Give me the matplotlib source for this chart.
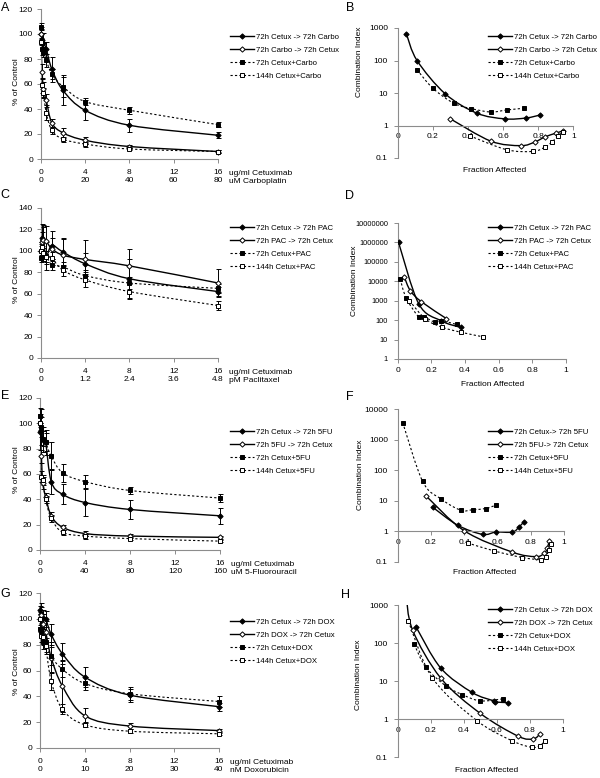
import numpy as np
import matplotlib
matplotlib.use("Agg")
import matplotlib.pyplot as plt
from matplotlib.path import Path
from matplotlib.patches import PathPatch
from matplotlib.lines import Line2D
from matplotlib.ticker import FuncFormatter, NullLocator

plt.rcParams['font.family'] = ['Liberation Sans', 'DejaVu Sans']
plt.rcParams['font.size'] = 6

W, H = 600, 778
FS = 6        # ticks / axis labels
LEG_FS = 5.6  # legend text

# ---------------- data ----------------
cetux_dose = [0, 0.125, 0.25, 0.5, 1, 2, 4, 8, 16]
cetux_ticks = [0, 4, 8, 12, 16]

# A: carboplatin viability (% of control)
carbo_labels = ["72h Cetux -> 72h Carbo", "72h Carbo -> 72h Cetux", "72h Cetux+Carbo", "144h Cetux+Carbo"]
carbo_ticks = ["0", "20", "40", "60", "80"]
carbo_cetux_first = [100, 95, 93, 88, 72, 55, 39, 27, 19]
carbo_cetux_first_err = [6, 6, 8, 6, 10, 12, 8, 5, 2.5]
carbo_carbo_first = [100, 70, 56, 47, 29, 21, 15, 10, 6]
carbo_carbo_first_err = [4, 6, 6, 5, 3, 4, 2.5, 1.5, 1]
carbo_combo72 = [106, 88, 86, 79, 68, 58, 46, 39, 27.5]
carbo_combo72_err = [3, 5, 4, 5, 4, 8, 3, 3, 2]
carbo_combo144 = [94, 59, 53, 37, 23, 16, 12, 8, 6]
carbo_combo144_err = [3, 6, 4, 6, 3, 2, 2, 1, 1]

# C: paclitaxel
pac_labels = ["72h Cetux -> 72h PAC", "72h PAC -> 72h Cetux", "72h Cetux+PAC", "144h Cetux+PAC"]
pac_ticks = ["0", "1.2", "2.4", "3.6", "4.8"]
pac_cetux_first = [100, 112, 110, 95, 105, 99, 88, 74, 62]
pac_cetux_first_err = [8, 13, 14, 13, 14, 13, 10, 18, 4]
pac_pac_first = [100, 108, 110, 109, 102, 96, 92, 86, 70]
pac_pac_first_err = [6, 10, 12, 14, 10, 15, 18, 16, 13]
pac_combo72 = [93, 100, 97, 95, 87, 85, 77, 70, 65]
pac_combo72_err = [3, 5, 6, 5, 5, 5, 5, 6, 4]
pac_combo144 = [100, 104, 98, 94, 93, 82, 73, 62, 49]
pac_combo144_err = [5, 6, 5, 6, 6, 5, 7, 7, 4]

# E: 5-fluorouracil
fu_labels = ["72h Cetux -> 72h 5FU", "72h 5FU -> 72h Cetux", "72h Cetux+5FU", "144h Cetux+5FU"]
fu_labels_ci = ["72h Cetux-> 72h 5FU", "72h 5FU-> 72h Cetux", "72h Cetux+5FU", "144h Cetux+5FU"]
fu_ticks = ["0", "40", "80", "120", "160"]
fu_cetux_first = [93, 97, 87, 85, 54, 44, 37.5, 32, 27]
fu_cetux_first_err = [14, 14, 10, 10, 10, 8, 11, 7.5, 6.5]
fu_fu_first = [100, 74, 53, 42, 27, 18, 13, 11, 10]
fu_fu_first_err = [5, 5, 5, 3, 3, 2, 2, 1.5, 1]
fu_combo72 = [106, 97, 88, 85, 74, 61, 54, 47, 41]
fu_combo72_err = [6, 8, 6, 7, 11, 7, 5, 3, 3]
fu_combo144 = [100, 58, 55, 40, 25, 14, 11, 9, 7]
fu_combo144_err = [6, 4, 4, 3, 3, 2, 2, 1, 1]

# G: doxorubicin
dox_labels = ["72h Cetux -> 72h DOX", "72h DOX -> 72h Cetux", "72h Cetux+DOX", "144h Cetux+DOX"]
dox_ticks = ["0", "10", "20", "30", "40"]
dox_cetux_first = [107, 104, 101, 100, 88, 73, 55, 41, 32]
dox_cetux_first_err = [3, 8, 6, 6, 8, 8, 8, 5, 3]
dox_dox_first = [100, 103, 96, 90, 70, 48, 25, 17, 13.5]
dox_dox_first_err = [5, 6, 8, 8, 12, 20, 6, 2, 1]
dox_combo72 = [92, 90, 82, 82, 71, 61, 50, 42, 36]
dox_combo72_err = [2, 5, 5, 8, 7, 6, 5, 5, 4]
dox_combo144 = [100, 87, 86, 79, 52, 30, 18, 13, 11]
dox_combo144_err = [7, 5, 6, 6, 7, 4, 2, 1.5, 1]

# B: combination index, carboplatin
carbo_ci_cetux_first_fa = [0.05, 0.11, 0.27, 0.45, 0.61, 0.73, 0.81]
carbo_ci_cetux_first = [650, 100, 9.5, 2.4, 1.6, 1.7, 2.1]
carbo_ci_carbo_first_fa = [0.30, 0.53, 0.70, 0.78, 0.84, 0.90, 0.94]
carbo_ci_carbo_first = [1.6, 0.33, 0.24, 0.31, 0.45, 0.58, 0.68]
carbo_ci_combo72_fa = [0.11, 0.20, 0.32, 0.42, 0.53, 0.62, 0.72]
carbo_ci_combo72 = [52, 14, 4.8, 3.3, 2.6, 3.0, 3.4]
carbo_ci_combo144_fa = [0.41, 0.62, 0.77, 0.84, 0.88, 0.91, 0.94]
carbo_ci_combo144 = [0.48, 0.18, 0.16, 0.22, 0.32, 0.46, 0.64]

# D: combination index, paclitaxel
pac_ci_cetux_first_fa = [0.005, 0.125, 0.255, 0.375]
pac_ci_cetux_first = [1.0e6, 700, 95, 42]
pac_ci_pac_first_fa = [0.04, 0.075, 0.14, 0.29]
pac_ci_pac_first = [16000, 3300, 900, 120]
pac_ci_combo72_fa = [0.015, 0.05, 0.125, 0.155, 0.22, 0.255, 0.35]
pac_ci_combo72 = [13000, 1400, 145, 150, 80, 95, 60]
pac_ci_combo144_fa = [0.07, 0.165, 0.265, 0.375, 0.505]
pac_ci_combo144 = [1000, 115, 43, 24, 14]

# F: combination index, 5FU
fu_ci_cetux_first_fa = [0.21, 0.36, 0.51, 0.59, 0.69, 0.73, 0.76]
fu_ci_cetux_first = [6.2, 1.6, 0.8, 0.95, 0.95, 1.4, 2.1]
fu_ci_fu_first_fa = [0.17, 0.40, 0.69, 0.83, 0.88, 0.90, 0.91]
fu_ci_fu_first = [14.5, 1.05, 0.21, 0.15, 0.19, 0.28, 0.5]
fu_ci_combo72_fa = [0.03, 0.15, 0.26, 0.38, 0.45, 0.53, 0.59]
fu_ci_combo72 = [3600, 43, 11.5, 4.9, 5.1, 5.6, 7.2]
fu_ci_combo144_fa = [0.42, 0.58, 0.75, 0.86, 0.89, 0.91, 0.92]
fu_ci_combo144 = [0.42, 0.23, 0.14, 0.12, 0.15, 0.25, 0.4]

# H: combination index, doxorubicin
dox_ci_cetux_first_fa = [0.11, 0.26, 0.45, 0.58, 0.59, 0.67]
dox_ci_cetux_first = [270, 22, 5, 3.0, 2.8, 2.7]
dox_ci_dox_first_fa = [0.05, 0.09, 0.26, 0.50, 0.73, 0.82, 0.86]
dox_ci_dox_first = [2000, 220, 12, 1.4, 0.35, 0.3, 0.4]
dox_ci_combo72_fa = [0.10, 0.17, 0.29, 0.39, 0.50, 0.64]
dox_ci_combo72 = [92, 23, 7.5, 4.4, 3.0, 3.4]
dox_ci_combo144_fa = [0.065, 0.21, 0.48, 0.69, 0.81, 0.86, 0.89]
dox_ci_combo144 = [370, 12, 0.9, 0.27, 0.18, 0.2, 0.26]

# ---------------- styling ----------------
AXCOL = '#8c8c8c'
STYLES = [
    dict(ls='-', lw=1.0, marker='D', ms=2.7, mfc='black'),
    dict(ls='-', lw=1.0, marker='D', ms=2.7, mfc='white'),
    dict(ls=(0, (2, 2)), lw=0.8, marker='s', ms=2.8, mfc='black'),
    dict(ls=(0, (2, 2)), lw=0.8, marker='s', ms=2.7, mfc='white'),
]

fig = plt.figure(figsize=(W / 100, H / 100), dpi=100)


def px(x, y):
    return x / W, 1 - y / H


def axes_px(x0, x1, y_top, y_bot):
    return fig.add_axes([x0 / W, 1 - y_bot / H, (x1 - x0) / W, (y_bot - y_top) / H])


def smooth_curve(ax, x, y, log, st):
    # excel-like smoothed line: bezier through the points
    x = np.asarray(x, float)
    t = np.log10(y) if log else np.asarray(y, float)
    pts = np.column_stack([x, t])
    n = len(pts)
    verts = [pts[0]]
    codes = [Path.MOVETO]
    for i in range(n - 1):
        p0 = pts[max(i - 1, 0)]
        p1 = pts[i]
        p2 = pts[i + 1]
        p3 = pts[min(i + 2, n - 1)]
        verts += [p1 + (p2 - p0) / 6, p2 - (p3 - p1) / 6, p2]
        codes += [Path.CURVE4] * 3
    verts = np.array(verts)
    if log:
        verts[:, 1] = 10 ** verts[:, 1]
    ax.add_patch(PathPatch(Path(verts, codes), fill=False, edgecolor='black',
                           lw=st['lw'], linestyle=st['ls'], zorder=2))


def style_spines(ax, ypad, xpad):
    for s in ('top', 'right'):
        ax.spines[s].set_visible(False)
    for s in ('left', 'bottom'):
        ax.spines[s].set_color(AXCOL)
        ax.spines[s].set_linewidth(0.8)
    ax.tick_params(direction='out', length=3, width=0.7, color=AXCOL, labelsize=FS)
    ax.tick_params(axis='y', pad=ypad)
    ax.tick_params(axis='x', pad=xpad)


def add_legend(labels, x, y):
    handles = [Line2D([], [], color='black', lw=st['lw'], ls=st['ls'], marker=st['marker'],
                      ms=st['ms'], mfc=st['mfc'], mec='black', mew=0.7) for st in STYLES]
    fig.legend(handles, labels, loc='upper left', bbox_to_anchor=px(x, y), frameon=False,
               borderpad=0, borderaxespad=0, handlelength=3.1, handletextpad=0.25,
               labelspacing=0.72, fontsize=LEG_FS)


def viability_panel(rect, series, errs, ylim, drug_ticks, unit, labels, letter, letter_xy, ylab_y, leg_y):
    ax = axes_px(*rect)
    for i, (vals, err) in enumerate(zip(series, errs)):
        st = STYLES[i]
        smooth_curve(ax, cetux_dose, vals, False, st)
        eb = ax.errorbar(cetux_dose, vals, yerr=err, fmt='none', ecolor='black',
                         elinewidth=0.7, capsize=1.8, capthick=0.7, zorder=3)
        for c in eb.get_children():
            c.set_clip_on(False)
        ax.plot(cetux_dose, vals, ls='none', marker=st['marker'], ms=st['ms'],
                mfc=st['mfc'], mec='black', mew=0.7, zorder=4, clip_on=False)
    ax.set_xlim(0, 16)
    ax.set_ylim(*ylim)
    ax.set_yticks(np.arange(ylim[0], ylim[1] + 1, 20))
    ax.set_xticks(cetux_ticks)
    ax.set_xticklabels([f"{c}\n{d}" for c, d in zip(cetux_ticks, drug_ticks)], linespacing=1.3)
    style_spines(ax, 2.6, 4)
    row_mid = rect[3] + 18.5
    fig.text((rect[1] + 11) / W, 1 - row_mid / H, "ug/ml Cetuximab\n" + unit, ha='left',
             va='center', fontsize=FS, linespacing=1.3)
    fig.text(*px(16, ylab_y), "% of Control", rotation=90, ha='center', va='center', fontsize=FS)
    fig.text(*px(*letter_xy), letter, ha='center', va='center', fontsize=9)
    add_legend(labels, 230, leg_y)
    return ax


def ci_fmt(v, pos):
    return f"{v:g}" if v < 1 else f"{v:.0f}"


def ci_panel(rect, xs, ys, ylim, labels, letter, letter_xy, ylab_xy, xlab_xy, leg_y, ytick_fs=FS):
    ax = axes_px(*rect)
    ax.set_yscale('log')
    for i, (fa, ci) in enumerate(zip(xs, ys)):
        st = STYLES[i]
        smooth_curve(ax, fa, ci, True, st)
        ax.plot(fa, ci, ls='none', marker=st['marker'], ms=st['ms'], mfc=st['mfc'],
                mec='black', mew=0.7, zorder=4)
    ax.set_xlim(0, 1)
    ax.set_ylim(*ylim)
    lo, hi = int(round(np.log10(ylim[0]))), int(round(np.log10(ylim[1])))
    ax.set_yticks([10.0 ** k for k in range(lo, hi + 1)])
    ax.yaxis.set_major_formatter(FuncFormatter(ci_fmt))
    ax.yaxis.set_minor_locator(NullLocator())
    ax.set_xticks([0, 0.2, 0.4, 0.6, 0.8, 1])
    ax.set_xticklabels(["0", "0.2", "0.4", "0.6", "0.8", "1"])
    style_spines(ax, 4, 2.5)
    ax.tick_params(axis='y', labelsize=ytick_fs)
    ax.spines['bottom'].set_position(('data', 1))
    fig.text(*px(*ylab_xy), "Combination Index", rotation=90, ha='center', va='center', fontsize=FS)
    fig.text(*px(*xlab_xy), "Fraction Affected", ha='center', va='center', fontsize=FS)
    fig.text(*px(*letter_xy), letter, ha='center', va='center', fontsize=9)
    add_legend(labels, 488, leg_y)
    return ax


viability_panel((40.7, 218, 9, 159),
                [carbo_cetux_first, carbo_carbo_first, carbo_combo72, carbo_combo144],
                [carbo_cetux_first_err, carbo_carbo_first_err, carbo_combo72_err, carbo_combo144_err],
                (0, 120), carbo_ticks, "uM Carboplatin", carbo_labels, "A", (5, 8), 82, 33.5)
viability_panel((40.7, 218, 208, 358),
                [pac_cetux_first, pac_pac_first, pac_combo72, pac_combo144],
                [pac_cetux_first_err, pac_pac_first_err, pac_combo72_err, pac_combo144_err],
                (0, 140), pac_ticks, "pM Paclitaxel", pac_labels, "C", (5, 195), 280, 224.5)
viability_panel((40, 220, 398, 550),
                [fu_cetux_first, fu_fu_first, fu_combo72, fu_combo144],
                [fu_cetux_first_err, fu_fu_first_err, fu_combo72_err, fu_combo144_err],
                (0, 120), fu_ticks, "uM 5-Fluorouracil", fu_labels, "E", (5, 396), 470, 428.5)
viability_panel((40, 219, 593, 748),
                [dox_cetux_first, dox_dox_first, dox_combo72, dox_combo144],
                [dox_cetux_first_err, dox_dox_first_err, dox_combo72_err, dox_combo144_err],
                (0, 120), dox_ticks, "nM Doxorubicin", dox_labels, "G", (5, 594), 672, 618.5)

ci_panel((397.7, 573.4, 28, 158),
         [carbo_ci_cetux_first_fa, carbo_ci_carbo_first_fa, carbo_ci_combo72_fa, carbo_ci_combo144_fa],
         [carbo_ci_cetux_first, carbo_ci_carbo_first, carbo_ci_combo72, carbo_ci_combo144],
         (0.1, 1000), carbo_labels, "B", (350, 8), (359, 62), (495, 171), 33.5)
ci_panel((397.7, 565.7, 223, 359),
         [pac_ci_cetux_first_fa, pac_ci_pac_first_fa, pac_ci_combo72_fa, pac_ci_combo144_fa],
         [pac_ci_cetux_first, pac_ci_pac_first, pac_ci_combo72, pac_ci_combo144],
         (1, 1e7), pac_labels, "D", (349, 196), (355, 281), (493, 385), 224.5, ytick_fs=5.3)
ci_panel((397.7, 564, 409, 562),
         [fu_ci_cetux_first_fa, fu_ci_fu_first_fa, fu_ci_combo72_fa, fu_ci_combo144_fa],
         [fu_ci_cetux_first, fu_ci_fu_first, fu_ci_combo72, fu_ci_combo144],
         (0.1, 1e4), fu_labels_ci, "F", (350, 397), (360, 475), (485, 573), 428.5)
ci_panel((397.7, 563, 605, 757),
         [dox_ci_cetux_first_fa, dox_ci_dox_first_fa, dox_ci_combo72_fa, dox_ci_combo144_fa],
         [dox_ci_cetux_first, dox_ci_dox_first, dox_ci_combo72, dox_ci_combo144],
         (0.1, 1000), dox_labels, "H", (345, 595), (358, 675), (487, 771), 606.5)

fig.savefig("out.png", dpi=100)
